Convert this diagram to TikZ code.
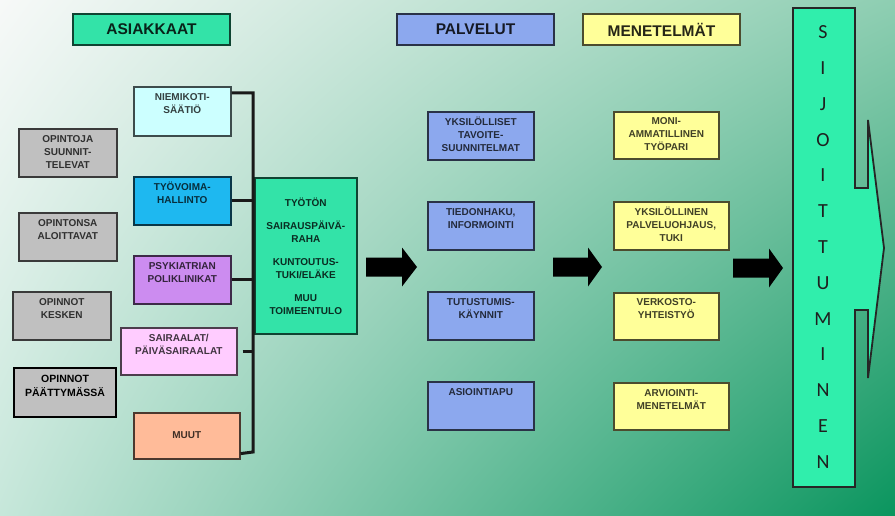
\documentclass[tikz,border=0pt]{standalone}
\usepackage{fontspec}
\setmainfont{Liberation Sans}
\newfontfamily\sijfont{Carlito}
\usetikzlibrary{shadings}
\definecolor{bgul}{HTML}{F7F9F8}
\definecolor{bgur}{HTML}{8ECEB2}
\definecolor{bgll}{HTML}{C6E7DA}
\definecolor{bglr}{HTML}{0A955E}
\definecolor{asgreen}{HTML}{33E3A8}
\definecolor{sijgreen}{HTML}{30EEAC}
\definecolor{palblue}{HTML}{8CA8EE}
\definecolor{menyellow}{HTML}{FFFF99}
\definecolor{niemicyan}{HTML}{CCFFFF}
\definecolor{tyoblue}{HTML}{1EB8F0}
\definecolor{psykviolet}{HTML}{CC8CF0}
\definecolor{sairpink}{HTML}{FFCCFF}
\definecolor{muutpeach}{HTML}{FFBB99}
\definecolor{greybox}{HTML}{C0C0C0}

\begin{document}
\begin{tikzpicture}[x=1pt, y=-1pt,
  every node/.style={inner sep=0pt, align=center, font=\fontsize{10}{13}\selectfont\bfseries},
  hdr/.style={draw=#1!30!black, line width=1.5pt, fill=#1, text=#1!15!black,
    minimum width=157pt, minimum height=31pt, font=\fontsize{15.5}{17}\selectfont\bfseries},
  cbox/.style={draw=#1!30!black, line width=1.6pt, fill=#1, text=#1!25!black,
    anchor=north west, text height=14pt, text depth=34pt},
  bus/.style={line width=3pt, draw=black!90},
  sijletter/.style={anchor=base, text=black!88, font=\sijfont\fontsize{20}{20}\selectfont}]
  % background
  \useasboundingbox (0,0) rectangle (895,516);
  \shade[upper left=bgul, upper right=bgur, lower left=bgll, lower right=bglr] (0,0) rectangle (895,516);

  % headings
  \node[hdr=asgreen] (asiakkaat) at (151.5,29.5) {ASIAKKAAT};
  \node[hdr=palblue] (palvelut) at (475.5,29.5) {PALVELUT};
  \node[hdr=menyellow] (menetelmat) at (661.5,29.5) {MENETELMÄT};

  % students
  \node[cbox=greybox, text width=98pt] (opsuun) at (18,128) {OPINTOJA\\SUUNNIT-\\TELEVAT};
  \node[cbox=greybox, text width=98pt] (opaloit) at (18,212) {OPINTONSA\\ALOITTAVAT};
  \node[cbox=greybox, text width=98pt] (opkesk) at (12,291) {OPINNOT\\KESKEN};
  \node[cbox=greybox, draw=black, text=black, line width=2.2pt, text width=102pt, text depth=35pt,
    font=\fontsize{10.5}{14}\selectfont\bfseries] (oppaat) at (13,367) {OPINNOT\\PÄÄTTYMÄSSÄ};

  % referring parties
  \node[cbox=niemicyan, text width=97pt, text depth=35pt] (niemi) at (133,86) {NIEMIKOTI-\\SÄÄTIÖ};
  \node[cbox=tyoblue, text width=97pt] (tyo) at (133,176) {TYÖVOIMA-\\HALLINTO};
  \node[cbox=psykviolet, text width=97pt] (psyk) at (133,255) {PSYKIATRIAN\\POLIKLINIKAT};
  \node[cbox=sairpink, text width=116pt, text depth=33pt] (sair) at (120,327) {SAIRAALAT/\\PÄIVÄSAIRAALAT};
  \node[cbox=muutpeach, text width=106pt, text height=26pt, text depth=20pt] (muut) at (133,412) {MUUT};

  % income
  \node[draw=asgreen!30!black, line width=1.6pt, fill=asgreen, text=asgreen!20!black,
    anchor=north west, text width=102pt, minimum height=156pt] (tulo) at (254,177)
    {TYÖTÖN\\[10pt]SAIRAUSPÄIVÄ-\\RAHA\\[10pt]KUNTOUTUS-\\TUKI/ELÄKE\\[10pt]MUU\\TOIMEENTULO};

  % bus
  \coordinate (bustop) at (253,93);
  \coordinate (busbot) at (253,452);
  \draw[bus] ([yshift=-7pt]niemi.north east) -- (bustop) -- (busbot) -- ([yshift=6pt]muut.south east);
  \draw[bus] (tyo.east) -- (tyo.east -| bustop);
  \draw[bus] (psyk.east) -- (psyk.east -| bustop);
  \draw[bus] ([xshift=5pt]sair.east) -- (sair.east -| bustop);

  % services
  \node[cbox=palblue, text width=106pt] (yksil) at (427,111) {YKSILÖLLISET\\TAVOITE-\\SUUNNITELMAT};
  \node[cbox=palblue, text width=106pt] (tiedon) at (427,201) {TIEDONHAKU,\\INFORMOINTI};
  \node[cbox=palblue, text width=106pt] (tutust) at (427,291) {TUTUSTUMIS-\\KÄYNNIT};
  \node[cbox=palblue, text width=106pt] (asioin) at (427,381) {ASIOINTIAPU};

  % methods
  \node[cbox=menyellow, text width=105pt, text height=13pt, text depth=34pt] (moni) at (613,111) {MONI-\\AMMATILLINEN\\TYÖPARI};
  \node[cbox=menyellow, text width=115pt] (ohjaus) at (613,201) {YKSILÖLLINEN\\PALVELUOHJAUS,\\TUKI};
  \node[cbox=menyellow, text width=105pt, text height=13pt, text depth=34pt] (verkosto) at (613,292) {VERKOSTO-\\YHTEISTYÖ};
  \node[cbox=menyellow, text width=115pt, text height=14pt, text depth=33pt] (arvio) at (613,382) {ARVIOINTI-\\MENETELMÄT};

  % block arrows
  \coordinate (arr1) at (366,267);
  \coordinate (arr2) at (553,267);
  \coordinate (arr3) at (733,268);
  \fill (arr1) ++(0,-9.5) -- ++(36,0) -- ++(0,-10) -- ++(15,19.5) -- ++(-15,19.5) -- ++(0,-10) -- ++(-36,0) -- cycle;
  \fill (arr2) ++(0,-9.5) -- ++(35,0) -- ++(0,-10) -- ++(14,19.5) -- ++(-14,19.5) -- ++(0,-10) -- ++(-35,0) -- cycle;
  \fill (arr3) ++(0,-9.5) -- ++(36,0) -- ++(0,-10) -- ++(14,19.5) -- ++(-14,19.5) -- ++(0,-10) -- ++(-36,0) -- cycle;

  % result arrow
  \draw[line width=1.8pt, fill=sijgreen, draw=black!85, line join=miter]
    (793,8) -- (855,8) -- (855,188) -- (868,188) -- (868,120) -- (884,248) -- (868,378)
    -- (868,310) -- (855,310) -- (855,487) -- (793,487) -- cycle;
  \foreach \l [count=\i] in {S,I,J,O,I,T,T,U,M,I,N,E,N}
    \node[sijletter] (sij\i) at (823,3.25+35.75*\i) {\l};
\end{tikzpicture}
\end{document}
